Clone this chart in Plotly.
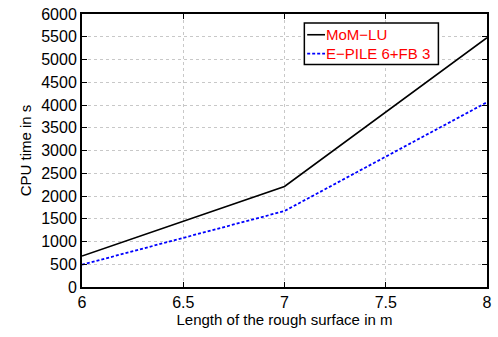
import plotly.graph_objects as go

lengths = [6, 7, 8]
mom_lu = [680, 2210, 5480]
epile = [490, 1670, 4060]
series_names = ["MoM\u2212LU", "E\u2212PILE 6+FB 3"]
x_ticks = [6, 6.5, 7, 7.5, 8]
x_ticktext = ["6", "6.5", "7", "7.5", "8"]

FONT = "Liberation Sans, Arial, Helvetica"
styles = [dict(color="black", width=1.6), dict(color="blue", width=1.8, dash="3px,2px")]

fig = go.Figure()
for name, ys, st in zip(series_names, [mom_lu, epile], styles):
    fig.add_trace(go.Scatter(x=lengths, y=ys, mode="lines", name=name, line=st, showlegend=False))

axis_common = dict(showline=True, linecolor="black", linewidth=2, mirror="ticks",
                   ticks="inside", ticklen=5, tickcolor="black", tickwidth=1,
                   showgrid=True, gridcolor="#c8c8c8", griddash="dot", gridwidth=1,
                   zeroline=False, ticklabeloverflow="allow",
                   tickfont=dict(family=FONT, size=16, color="black"),
                   title_font=dict(family=FONT, size=15, color="black"))

fig.update_xaxes(range=[6, 8], tickvals=x_ticks, ticktext=x_ticktext,
                 title_text="Length of the rough surface in m", title_standoff=4, **axis_common)
fig.update_yaxes(range=[0, 6000], dtick=500, title_text="CPU time in s", title_standoff=6, **axis_common)

# manual legend box (MATLAB style)
bx0, bx1, by0, by1 = 0.549, 0.880, 0.815, 0.967
fig.add_shape(type="rect", xref="paper", yref="paper", x0=bx0, x1=bx1, y0=by0, y1=by1,
              line=dict(color="black", width=1.5), fillcolor="white", layer="above")
rows_y = [0.924, 0.855]
for name, st, ry in zip(series_names, styles, rows_y):
    fig.add_shape(type="line", xref="paper", yref="paper", x0=0.556, x1=0.600, y0=ry, y1=ry,
                  line=st, layer="above")
    fig.add_annotation(xref="paper", yref="paper", x=0.601, y=ry, text=name, showarrow=False,
                       xanchor="left", yanchor="middle", borderpad=0,
                       font=dict(family=FONT, size=15, color="red"))

fig.update_layout(width=498, height=337, margin=dict(l=82, r=6, t=11, b=50),
                  plot_bgcolor="white", paper_bgcolor="white", showlegend=False)

fig.write_html("out.html", config={"displayModeBar": False},
               post_script="document.body.style.margin='0';document.body.style.overflow='hidden';")
